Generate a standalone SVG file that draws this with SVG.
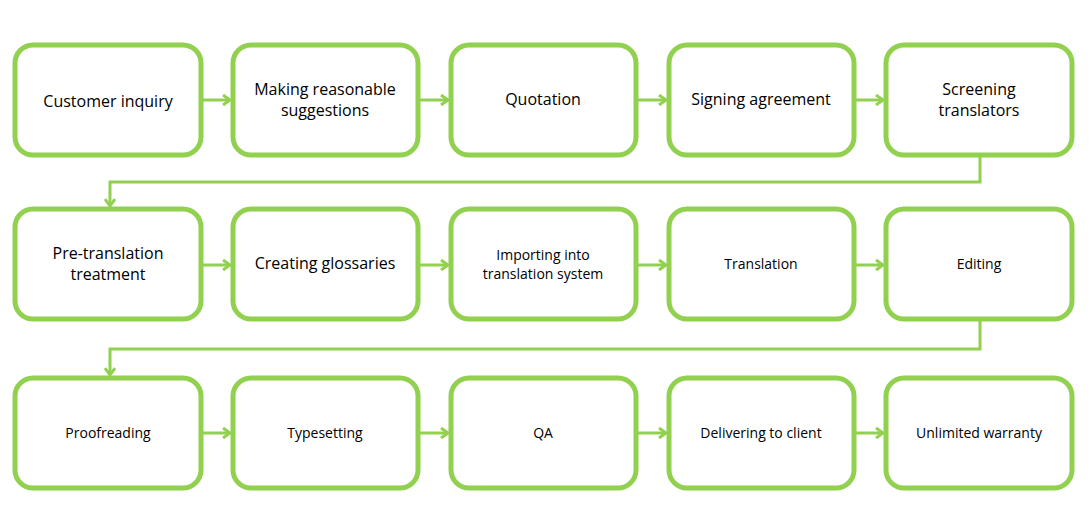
<svg xmlns="http://www.w3.org/2000/svg" width="1091" height="524" viewBox="0 0 1091 524">
<defs><marker id="a" markerWidth="12" markerHeight="12" refX="9" refY="6" orient="auto" markerUnits="userSpaceOnUse"><path d="M2,1 L9,6 L2,11" fill="none" stroke="#92D050" stroke-width="3"/></marker></defs>
<style>
.b{fill:#fff;stroke:#92D050;stroke-width:5}
.t{font-family:"Open Sans","Liberation Sans",sans-serif;font-size:16px;fill:#000;text-anchor:middle}
.s{font-size:14px}
.c{fill:none;stroke:#92D050;stroke-width:3;marker-end:url(#a)}
</style>
<rect width="1091" height="524" fill="#fff"/>
<g id="connectors">
<path class="c" d="M202,100H230"/><path class="c" d="M418,100H448"/><path class="c" d="M636,100H666"/><path class="c" d="M855,100H883"/>
<path class="c" d="M980,156V182H110V206"/>
<path class="c" d="M202,265H230"/><path class="c" d="M418,265H448"/><path class="c" d="M636,265H666"/><path class="c" d="M855,265H883"/>
<path class="c" d="M980,320V349H110V375"/>
<path class="c" d="M202,433H230"/><path class="c" d="M418,433H448"/><path class="c" d="M636,433H666"/><path class="c" d="M855,433H883"/>
</g>
<g id="n1"><rect class="b" x="15" y="45" width="186" height="110" rx="18"/><text class="t" x="108" y="107">Customer inquiry</text></g>
<g id="n2"><rect class="b" x="233" y="45" width="185" height="110" rx="18"/><text class="t" x="325" y="95">Making reasonable</text><text class="t" x="325" y="116">suggestions</text></g>
<g id="n3"><rect class="b" x="451" y="45" width="185" height="110" rx="18"/><text class="t" x="543" y="105">Quotation</text></g>
<g id="n4"><rect class="b" x="669" y="45" width="185" height="110" rx="18"/><text class="t" x="761" y="105">Signing agreement</text></g>
<g id="n5"><rect class="b" x="886" y="45" width="186" height="110" rx="18"/><text class="t" x="979" y="95">Screening</text><text class="t" x="979" y="116">translators</text></g>
<g id="n6"><rect class="b" x="15" y="209" width="186" height="110" rx="18"/><text class="t" x="108" y="259">Pre-translation</text><text class="t" x="108" y="280">treatment</text></g>
<g id="n7"><rect class="b" x="233" y="209" width="185" height="110" rx="18"/><text class="t" x="325" y="269">Creating glossaries</text></g>
<g id="n8"><rect class="b" x="451" y="209" width="185" height="110" rx="18"/><text class="t s" x="543" y="260">Importing into</text><text class="t s" x="543" y="279">translation system</text></g>
<g id="n9"><rect class="b" x="669" y="209" width="185" height="110" rx="18"/><text class="t s" x="761" y="269">Translation</text></g>
<g id="n10"><rect class="b" x="886" y="209" width="186" height="110" rx="18"/><text class="t s" x="979" y="269">Editing</text></g>
<g id="n11"><rect class="b" x="15" y="378" width="186" height="110" rx="18"/><text class="t s" x="108" y="438">Proofreading</text></g>
<g id="n12"><rect class="b" x="233" y="378" width="185" height="110" rx="18"/><text class="t s" x="325" y="438">Typesetting</text></g>
<g id="n13"><rect class="b" x="451" y="378" width="185" height="110" rx="18"/><text class="t s" x="543" y="438">QA</text></g>
<g id="n14"><rect class="b" x="669" y="378" width="185" height="110" rx="18"/><text class="t s" x="761" y="438">Delivering  to client</text></g>
<g id="n15"><rect class="b" x="886" y="378" width="186" height="110" rx="18"/><text class="t s" x="979" y="438">Unlimited warranty</text></g>
</svg>
